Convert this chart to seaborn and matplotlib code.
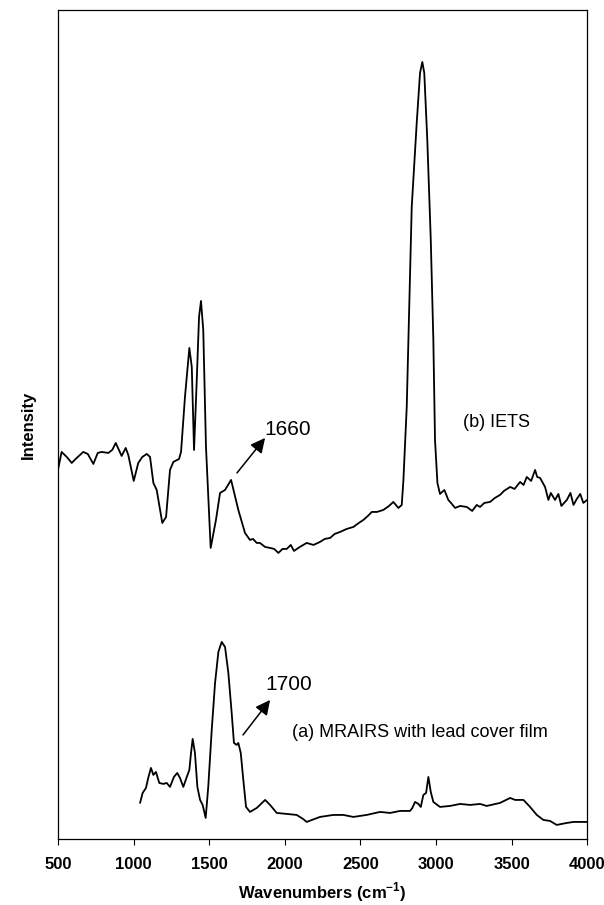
import numpy as np
import pandas as pd
import matplotlib
matplotlib.use("Agg")
import matplotlib.pyplot as plt
import seaborn as sns

# IETS spectrum (b)
iets_wn = [500, 524, 558, 591, 617, 667, 697, 734, 763, 789, 833, 859, 882, 921, 948,
           965, 1001, 1031, 1058, 1087, 1109, 1131, 1153, 1190, 1215, 1241, 1263, 1301,
           1314, 1340, 1369, 1385, 1400, 1418, 1433, 1446, 1461, 1479, 1510, 1545, 1572,
           1605, 1645, 1693, 1737, 1770, 1790, 1815, 1836, 1870, 1903, 1930, 1958, 1985,
           2013, 2040, 2061, 2100, 2145, 2190, 2233, 2265, 2300, 2330, 2366, 2410, 2454,
           2490, 2520, 2550, 2576, 2610, 2652, 2690, 2718, 2752, 2774, 2785, 2807, 2840,
           2873, 2895, 2910, 2923, 2943, 2966, 2983, 2994, 3010, 3027, 3056, 3082, 3100,
           3127, 3160, 3204, 3240, 3270, 3292, 3320, 3358, 3390, 3424, 3450, 3491, 3520,
           3557, 3580, 3601, 3630, 3656, 3670, 3689, 3722, 3744, 3760, 3788, 3810, 3830,
           3866, 3890, 3910, 3932, 3955, 3975, 4000]
iets_int = [369, 387, 382, 376, 380, 387, 385, 375, 386, 387, 386, 389, 396, 383, 391,
            384, 358, 376, 382, 385, 382, 356, 349, 316, 322, 369, 377, 380,
            387, 442, 491, 472, 389, 459, 522, 538, 509, 392, 291, 319, 346,
            349, 359, 329, 306, 299, 300, 296, 296, 292, 291, 290, 286, 290,
            290, 294, 288, 292, 296, 294, 297, 300, 301, 305, 307, 310, 312,
            316, 319, 323, 327, 327, 329, 333, 337, 331, 334, 359, 432, 632,
            716, 766, 777, 766, 699, 599, 499, 399, 356, 345, 349, 339, 336,
            331, 333, 332, 328, 334, 332, 336, 337, 341, 344, 348, 352, 350,
            357, 354, 362, 358, 369, 362, 361, 352, 339, 346, 339, 345, 333,
            339, 346, 334, 340, 345, 336, 339]

# MRAIRS spectrum (a)
mra_wn = [1043, 1060, 1082, 1097, 1115, 1131, 1148, 1170, 1197, 1219, 1241, 1267, 1289,
          1307, 1329, 1352, 1369, 1380, 1391, 1406, 1422, 1440, 1457, 1477, 1494, 1517,
          1539, 1561, 1583, 1605, 1627, 1649, 1664, 1682, 1693, 1709, 1726, 1744, 1770,
          1815, 1836, 1870, 1903, 1947, 2013, 2079, 2121, 2145, 2233, 2321, 2388, 2454,
          2542, 2630, 2697, 2763, 2829, 2844, 2862, 2884, 2900, 2917, 2935, 2950, 2966,
          2983, 3027, 3094, 3160, 3226, 3292, 3336, 3424, 3491, 3524, 3579, 3623, 3667,
          3711, 3755, 3799, 3866, 3911, 4000]
mra_int = [36, 46, 51, 61, 71, 64, 67, 56, 55, 56, 52, 62, 66,
           61, 52, 62, 69, 86, 100, 86, 52, 39, 34, 21, 52, 109,
           156, 187, 197, 192, 166, 126, 96, 94, 96, 86, 59, 32, 27,
           31, 34, 39, 34, 26, 25, 24, 20, 17, 22, 24, 24, 22,
           24, 27, 26, 28, 28, 31, 37, 35, 32, 44, 46, 62, 47,
           37, 32, 33, 35, 34, 35, 33, 36, 41, 39, 39, 32, 24,
           19, 18, 14, 16, 17, 17]

xticks = [500, 1000, 1500, 2000, 2500, 3000, 3500, 4000]

sns.set_style("ticks", {"text.color": "black", "axes.labelcolor": "black",
                        "xtick.color": "black", "axes.edgecolor": "black"})
plt.rcParams['font.family'] = ['Liberation Sans', 'DejaVu Sans']
plt.rcParams['mathtext.fontset'] = 'custom'
plt.rcParams['mathtext.bf'] = 'Liberation Sans:bold'
plt.rcParams['mathtext.rm'] = 'Liberation Sans'

df_b = pd.DataFrame({"wn": iets_wn, "intensity": iets_int})
df_a = pd.DataFrame({"wn": mra_wn, "intensity": mra_int})

fig = plt.figure(figsize=(6.04, 9.05), dpi=100)
ax = fig.add_axes([0.096, 0.073, 0.876, 0.916])

sns.lineplot(data=df_b, x="wn", y="intensity", color="black", linewidth=1.3,
             sort=False, ax=ax)
sns.lineplot(data=df_a, x="wn", y="intensity", color="black", linewidth=1.3,
             sort=False, ax=ax)

ax.set_xlim(500, 4000)
ax.set_ylim(0, 829)
ax.set_xticks(xticks)
ax.set_xticklabels([str(t) for t in xticks], fontweight="bold", fontsize=12)
ax.set_yticks([])
ax.tick_params(axis="x", direction="out", length=4, width=0.8, color="black", pad=9)
for s in ax.spines.values():
    s.set_color("black")
    s.set_linewidth(0.9)

ax.set_xlabel(r"Wavenumbers (cm$^{\mathbf{-1}}$)", fontweight="bold", fontsize=12,
              labelpad=6)
ax.set_ylabel("Intensity", fontweight="bold", fontsize=12, labelpad=16)

arrow = dict(arrowstyle="-|>", color="black", lw=1.1, mutation_scale=22,
             shrinkA=0, shrinkB=0)
ax.annotate("", xy=(1870, 401), xytext=(1684, 366), arrowprops=arrow)
ax.text(1862, 409, "1660", fontsize=15, ha="left", va="center")
ax.annotate("", xy=(1903, 139), xytext=(1724, 104), arrowprops=arrow)
ax.text(1870, 154, "1700", fontsize=15, ha="left", va="center")

ax.text(3180, 416, "(b) IETS", fontsize=13, ha="left", va="center")
ax.text(2048, 106, "(a) MRAIRS with lead cover film", fontsize=13, ha="left",
        va="center")

fig.savefig("out.png", dpi=100)
